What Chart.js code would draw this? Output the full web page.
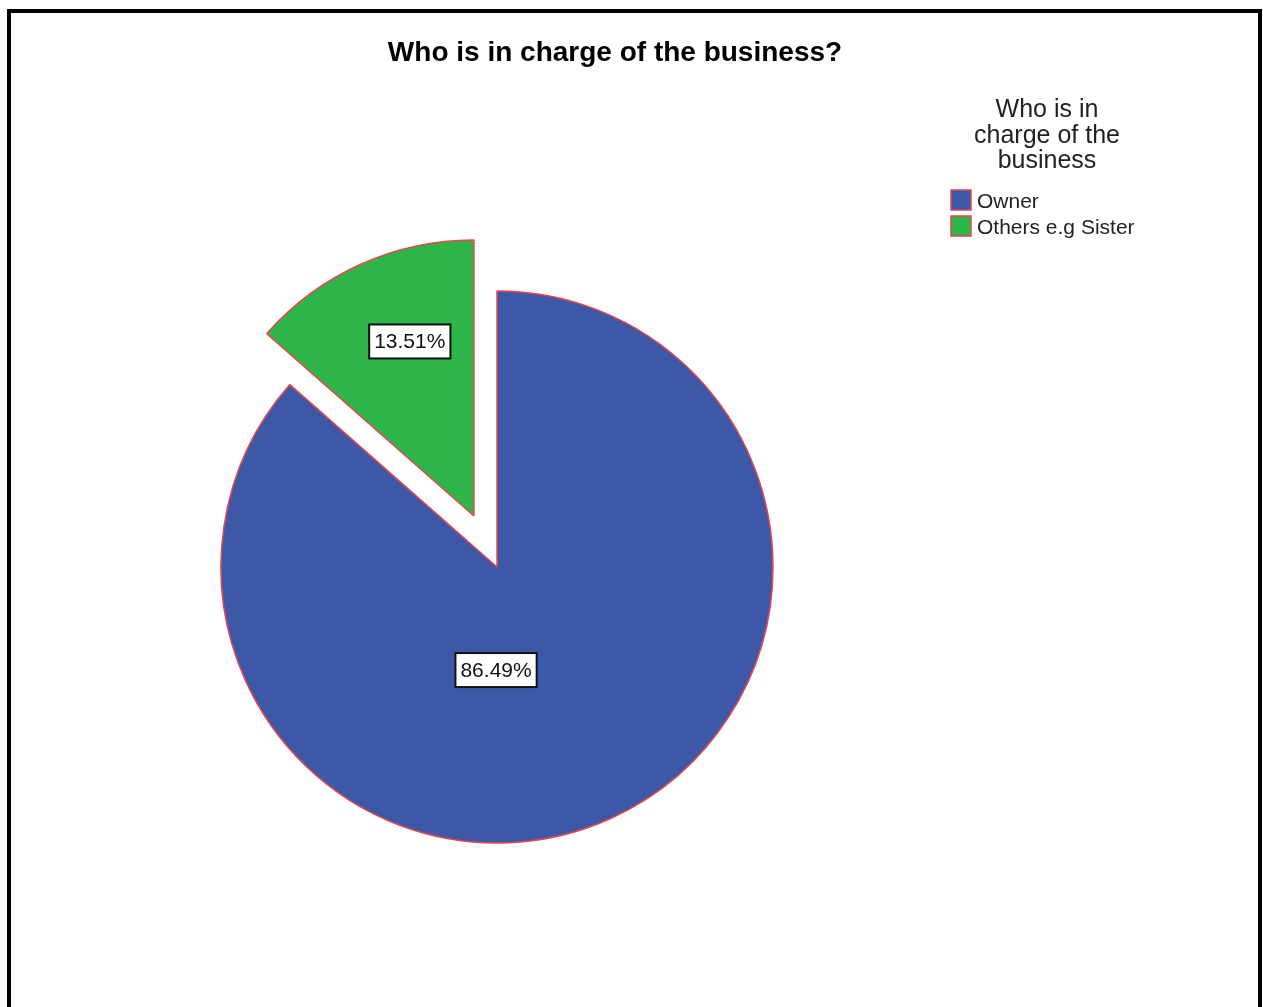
<!DOCTYPE html>
<html>
<head>
<meta charset="utf-8">
<title>Who is in charge of the business?</title>
<script src="https://cdn.jsdelivr.net/npm/chart.js@4.4.1/dist/chart.umd.min.js"></script>
<style>
    html, body { margin: 0; padding: 0; background: #fff; overflow: hidden; }
    #wrap { width: 1263px; height: 1100px; }
</style>
</head>
<body>
<div id="wrap"><canvas id="pie" width="1263" height="1100"></canvas></div>
<script>
const chartTitle = 'Who is in charge of the business?';
const legendTitle = ['Who is in', 'charge of the', 'business'];
const categories = ['Owner', 'Others e.g Sister'];
const percents = [86.49, 13.51];
const sliceColors = ['#3E58A8', '#2EB54A'];
const sliceBorder = '#E5474E';
const FONT = 'Arial, "Liberation Sans", sans-serif';

// black frame round the whole figure
const framePlugin = {
    id: 'frame',
    beforeDraw(chart) {
        const ctx = chart.ctx;
        ctx.save();
        ctx.strokeStyle = '#000';
        ctx.lineWidth = 4;
        ctx.strokeRect(9, 11, 1251, 1200);
        ctx.restore();
    }
};

// pull selected slices out along their mid angle
const explodePlugin = {
    id: 'explode',
    afterUpdate(chart, args, opts) {
        const meta = chart.getDatasetMeta(0);
        meta.data.forEach((arc, i) => {
            const d = opts.distance[i] || 0;
            if (!d) return;
            const mid = (arc.startAngle + arc.endAngle) / 2;
            arc.x += Math.cos(mid) * d;
            arc.y += Math.sin(mid) * d;
        });
    }
};

// boxed percentage labels on each slice
const sliceLabelPlugin = {
    id: 'sliceLabels',
    afterDatasetsDraw(chart, args, opts) {
        const ctx = chart.ctx;
        const meta = chart.getDatasetMeta(0);
        const values = chart.data.datasets[0].data;
        ctx.save();
        ctx.font = '21px ' + FONT;
        ctx.textAlign = 'center';
        ctx.textBaseline = 'middle';
        meta.data.forEach((arc, i) => {
            const mid = (arc.startAngle + arc.endAngle) / 2;
            const r = arc.outerRadius * opts.radius[i];
            const x = arc.x + Math.cos(mid) * r + opts.nudge[i][0];
            const y = arc.y + Math.sin(mid) * r + opts.nudge[i][1];
            const text = values[i].toFixed(2) + '%';
            const w = ctx.measureText(text).width + 10;
            const h = 34;
            ctx.fillStyle = '#fff';
            ctx.fillRect(x - w / 2, y - h / 2, w, h);
            ctx.strokeStyle = '#111';
            ctx.lineWidth = 2;
            ctx.strokeRect(x - w / 2, y - h / 2, w, h);
            ctx.fillStyle = '#111';
            ctx.fillText(text, x, y + 1);
        });
        ctx.restore();
    }
};

// legend as a layout box on the right, so the pie sits left of it
function drawSideLegend(chart, box) {
    const opts = box.options;
    const ctx = chart.ctx;
    const ds = chart.data.datasets[0];
    const x0 = box.left + opts.x;
    ctx.save();
    ctx.fillStyle = '#222';
    ctx.textAlign = 'center';
    ctx.textBaseline = 'alphabetic';
    ctx.font = '25px ' + FONT;
    opts.title.forEach((line, i) => {
        ctx.fillText(line, x0 + 96, opts.y + i * 25.5);
    });
    ctx.textAlign = 'left';
    ctx.font = '21px ' + FONT;
    chart.data.labels.forEach((label, i) => {
        const top = opts.y + 73 + i * 26;
        ctx.fillStyle = ds.backgroundColor[i];
        ctx.fillRect(x0, top, 20, 20);
        ctx.strokeStyle = ds.borderColor;
        ctx.lineWidth = 1.5;
        ctx.strokeRect(x0, top, 20, 20);
        ctx.fillStyle = '#222';
        ctx.fillText(label, x0 + 26, top + 18);
    });
    ctx.restore();
}

const sideLegendPlugin = {
    id: 'sideLegend',
    beforeInit(chart, args, opts) {
        const box = {
            position: 'right',
            weight: 1000,
            fullSize: false,
            options: opts,
            isHorizontal() { return false; },
            update(maxWidth, maxHeight) {
                this.width = this.options.width;
                this.height = maxHeight;
            },
            draw() { drawSideLegend(chart, this); }
        };
        chart.$sideLegend = box;
        Chart.layouts.addBox(chart, box);
    },
    beforeUpdate(chart, args, opts) {
        chart.$sideLegend.options = opts;
    }
};

new Chart(document.getElementById('pie'), {
    type: 'pie',
    data: {
        labels: categories,
        datasets: [{
            data: percents,
            backgroundColor: sliceColors,
            borderColor: sliceBorder,
            borderWidth: 1.5
        }]
    },
    plugins: [framePlugin, explodePlugin, sliceLabelPlugin, sideLegendPlugin],
    options: {
        responsive: false,
        animation: false,
        events: [],
        radius: 276,
        layout: {
            padding: { left: 0, right: 33, top: 0, bottom: 45.6 }
        },
        plugins: {
            title: {
                display: true,
                text: chartTitle,
                color: '#000',
                font: { family: FONT, size: 28, weight: 'bold' },
                padding: { top: 36, bottom: 10 }
            },
            legend: { display: false },
            tooltip: { enabled: false },
            explode: { distance: [0, 56] },
            sliceLabels: {
                radius: [0.37, 0.67],
                nudge: [[-43, 10], [12, -6]]
            },
            sideLegend: { width: 236, x: -43, y: 117, title: legendTitle }
        }
    }
});
</script>
</body>
</html>
